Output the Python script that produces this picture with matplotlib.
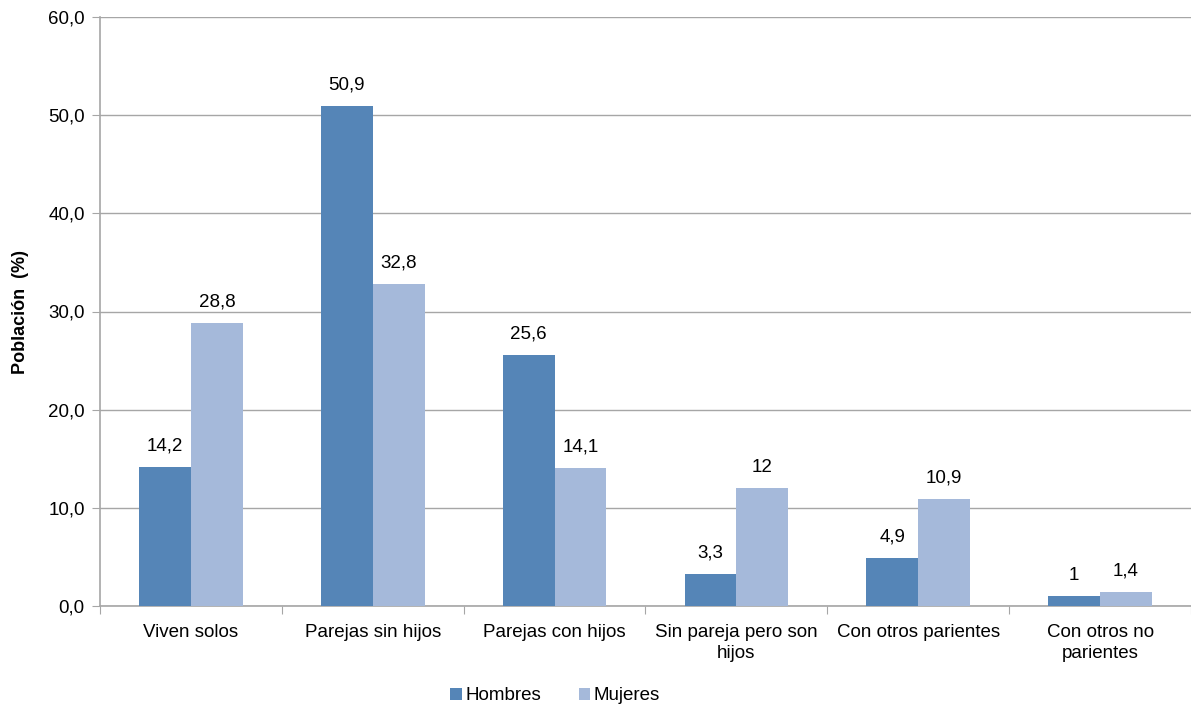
import numpy as np
import matplotlib.pyplot as plt

plt.rcParams['font.family'] = ['Liberation Sans', 'DejaVu Sans']

categorias = ['Viven solos', 'Parejas sin hijos', 'Parejas con hijos',
              'Sin pareja pero son\nhijos', 'Con otros parientes',
              'Con otros no\nparientes']
hombres = [14.2, 50.9, 25.6, 3.3, 4.9, 1]
mujeres = [28.8, 32.8, 14.1, 12, 10.9, 1.4]
yticks = [0, 10, 20, 30, 40, 50, 60]

c_h = '#5585B7'
c_m = '#A5B9DA'

fig = plt.figure(figsize=(11.91, 7.11), dpi=100)
ax = fig.add_axes([100/1191, 1 - 606/711, 1091/1191, (606 - 17)/711])

x = np.arange(len(categorias))
w = 0.285
b1 = ax.bar(x - w/2, hombres, w, color=c_h, label='Hombres', zorder=3)
b2 = ax.bar(x + w/2, mujeres, w, color=c_m, label='Mujeres', zorder=3)


def fmt(v):
    if float(v).is_integer():
        return '%d' % v
    return ('%.1f' % v).replace('.', ',')


for bars, vals in ((b1, hombres), (b2, mujeres)):
    for r, v in zip(bars, vals):
        ax.annotate(fmt(v), (r.get_x() + r.get_width()/2, v),
                    xytext=(0, 9), textcoords='offset points',
                    ha='center', va='bottom', fontsize=13.5)

ax.set_xlim(-0.5, len(categorias) - 0.5)
ax.set_ylim(0, 60)
ax.set_yticks(yticks)
ax.set_yticklabels([('%.1f' % t).replace('.', ',') for t in yticks], fontsize=13.5)
ax.set_xticks(np.arange(len(categorias) + 1) - 0.5, minor=False)
ax.set_xticklabels([])
ax.set_xticks(x, minor=True)
ax.set_xticklabels(categorias, minor=True, fontsize=13.5, linespacing=1.3)
ax.tick_params(axis='x', which='minor', length=0, pad=13)
ax.tick_params(axis='x', which='major', length=6, color='#A6A6A6')
ax.tick_params(axis='y', length=6, color='#A6A6A6', pad=5)
ax.grid(axis='y', color='#A6A6A6', linewidth=1, zorder=0)
for s in ['top', 'right']:
    ax.spines[s].set_visible(False)
for s in ['left', 'bottom']:
    ax.spines[s].set_color('#A6A6A6')
    ax.spines[s].set_linewidth(1.2)
ax.set_ylabel('Población  (%)', fontsize=13, fontweight='bold', labelpad=14)

fig.legend(handles=[b1, b2], loc='center', bbox_to_anchor=(555/1191, 1 - 696/711),
           ncol=2, frameon=False, fontsize=13.5, handlelength=0.6, handleheight=0.6,
           handletextpad=0.2, columnspacing=2.0)

fig.savefig('out.png', dpi=100)
